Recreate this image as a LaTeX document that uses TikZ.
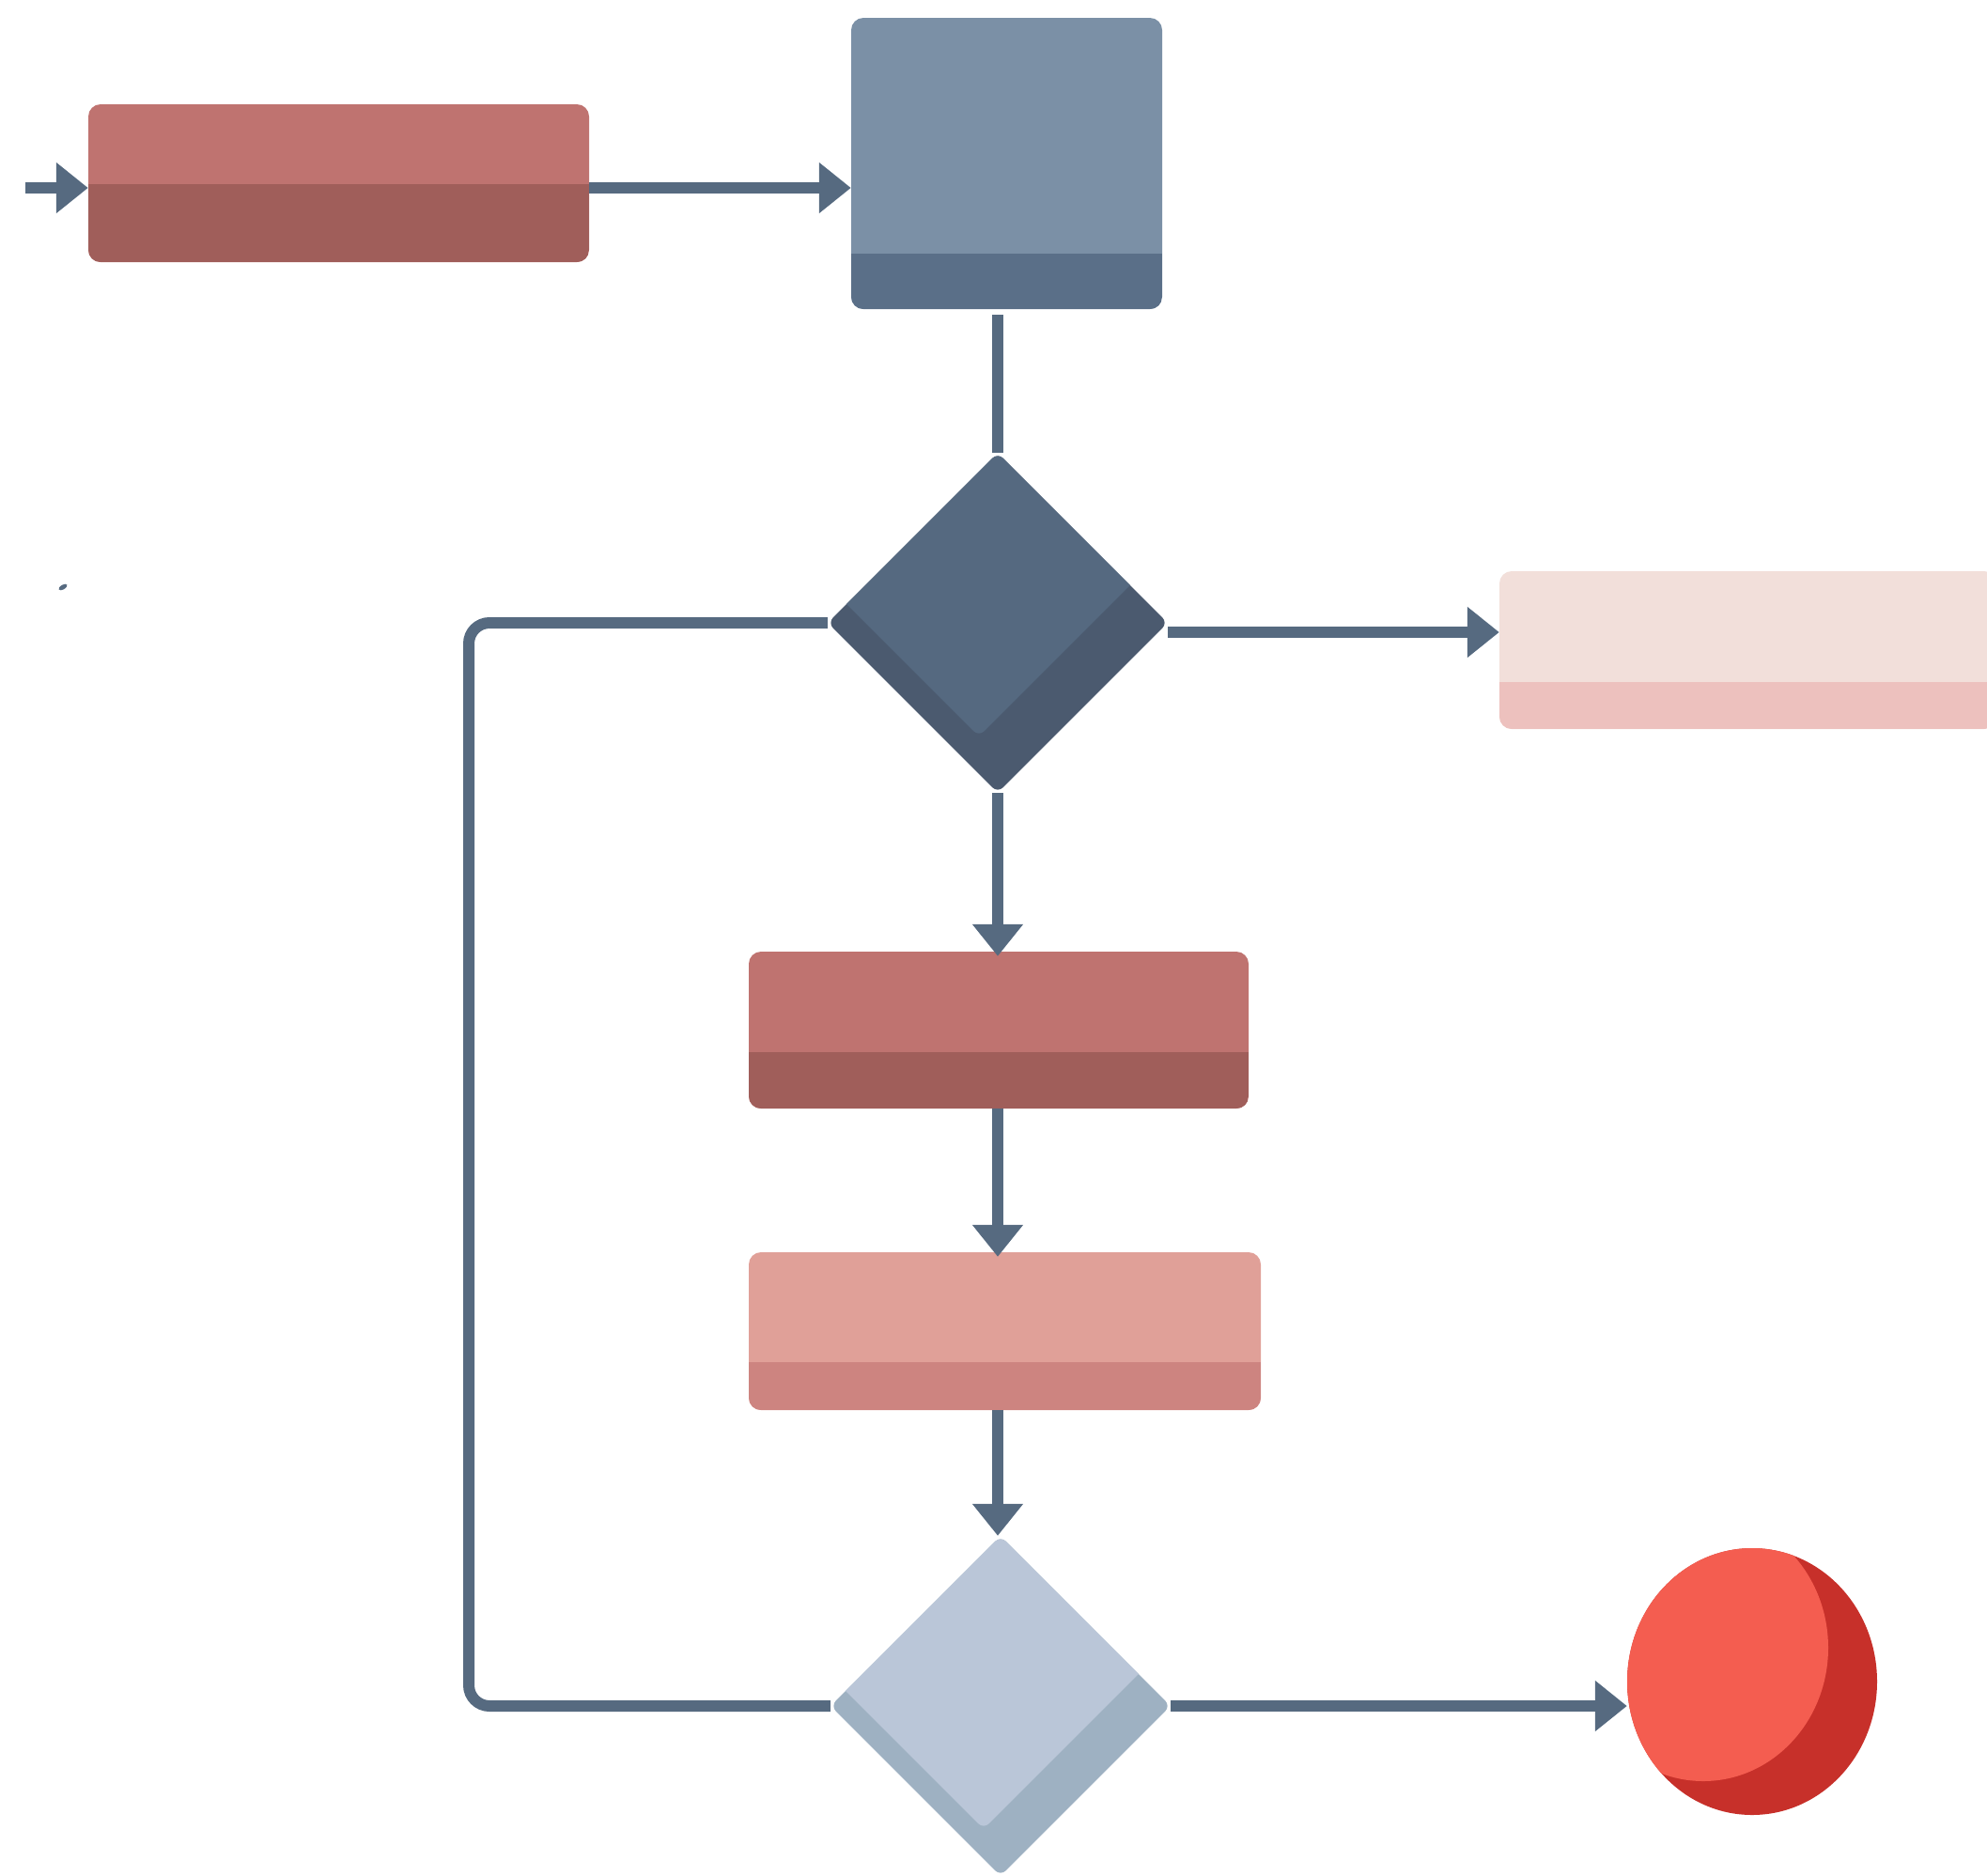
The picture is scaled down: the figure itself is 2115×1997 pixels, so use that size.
\documentclass[tikz,border=0pt]{standalone}
\usetikzlibrary{shapes.geometric,arrows.meta,calc}
\definecolor{linec}{HTML}{566A80}
\definecolor{redtop}{HTML}{BF7370}
\definecolor{redbot}{HTML}{A05E5A}
\definecolor{bluetop}{HTML}{7B90A6}
\definecolor{bluebot}{HTML}{5A6F88}
\definecolor{dkdia}{HTML}{556980}
\definecolor{dkdiabot}{HTML}{4B5A6F}
\definecolor{pinktop}{HTML}{F2DFDA}
\definecolor{pinkbot}{HTML}{EDC1BE}
\definecolor{salmtop}{HTML}{E0A098}
\definecolor{salmbot}{HTML}{CD8480}
\definecolor{ltdia}{HTML}{BAC6D8}
\definecolor{ltdiabot}{HTML}{9EB1C2}
\definecolor{circtop}{HTML}{F45D50}
\definecolor{circbot}{HTML}{C7302A}
\tikzset{
  conn/.style={draw=linec, line width=12pt, -{Triangle[length=34pt,width=52pt]}},
  plain/.style={draw=linec, line width=12pt},
  tbox/.style n args={3}{rectangle, rounded corners=13pt, inner sep=0pt, fill=#1,
    path picture={\fill[#2, sharp corners] (path picture bounding box.south west) rectangle ([yshift=#3]path picture bounding box.south east);}},
  tdia/.style n args={3}{diamond, aspect=1, inner sep=0pt, rounded corners=8pt, fill=#2,
    path picture={\fill[#1] ([shift={#3}]path picture bounding box.north) -- ([shift={#3}]path picture bounding box.east) -- ([shift={#3}]path picture bounding box.south) -- ([shift={#3}]path picture bounding box.west) -- cycle;}},
}
\begin{document}
\begin{tikzpicture}[x=1pt,y=-1pt]
\useasboundingbox (0,0) rectangle (2115,1997);
\clip (0,0) rectangle (2115,1997);
% shapes
\node[tbox={redtop}{redbot}{83pt}, minimum width=533pt, minimum height=168pt] (b1) at (360.5,195) {};
\node[tbox={bluetop}{bluebot}{59pt}, minimum width=331pt, minimum height=310pt] (b2) at (1071.5,174) {};
\node[tdia={dkdia}{dkdiabot}{(-20,-60)}, minimum width=362pt, minimum height=362pt] (d1) at (1062,663) {};
\node[tbox={pinktop}{pinkbot}{50pt}, minimum width=529pt, minimum height=168pt] (b5) at (1860.5,692) {};
\node[tbox={redtop}{redbot}{60pt}, minimum width=532pt, minimum height=167pt] (b3) at (1063,1096.5) {};
\node[tbox={salmtop}{salmbot}{51pt}, minimum width=545pt, minimum height=168pt] (b4) at (1069.5,1417) {};
\node[tdia={ltdia}{ltdiabot}{(-18,-50)}, minimum width=362pt, minimum height=362pt] (d2) at (1065,1816) {};
\node[ellipse, inner sep=0pt, minimum width=266pt, minimum height=284pt, fill=circbot,
  path picture={\fill[circtop] ([shift={(-52,-36)}]path picture bounding box.center) ellipse [x radius=133, y radius=142];}] (circ) at (1865,1790) {};
\fill[linec, rotate around={30:(67,625)}] (67,625) ellipse [x radius=5, y radius=2.5];
% connectors
\coordinate (in) at (27,200);
\coordinate (lp) at (499,0);
\coordinate (d1r) at ([yshift=-10pt]d1.east);
\coordinate (b3t) at ([yshift=-5pt]b3.north);
\coordinate (b4t) at ([yshift=-5pt]b4.north);
\draw[conn] (in) -- (in -| b1.west);
\draw[conn] (b1.east |- in) -- (b2.west |- in);
\draw[plain] ([yshift=-6pt]d1.north |- b2.south) -- (d1.north);
\draw[conn] (d1r) -- (b5.west |- d1r);
\draw[conn] (d1.south) -- (b3t -| d1.south);
\draw[conn] (b3.south -| d1.south) -- (b4t -| d1.south);
\draw[conn] (b4.south -| d1.south) -- (d2.north -| d1.south);
\draw[conn] (d2.east) -- (circ.west |- d2.east);
\draw[plain, rounded corners=22pt] (d1.west) -- (d1.west -| lp) -- (d2.west -| lp) -- (d2.west);
\end{tikzpicture}
\end{document}
